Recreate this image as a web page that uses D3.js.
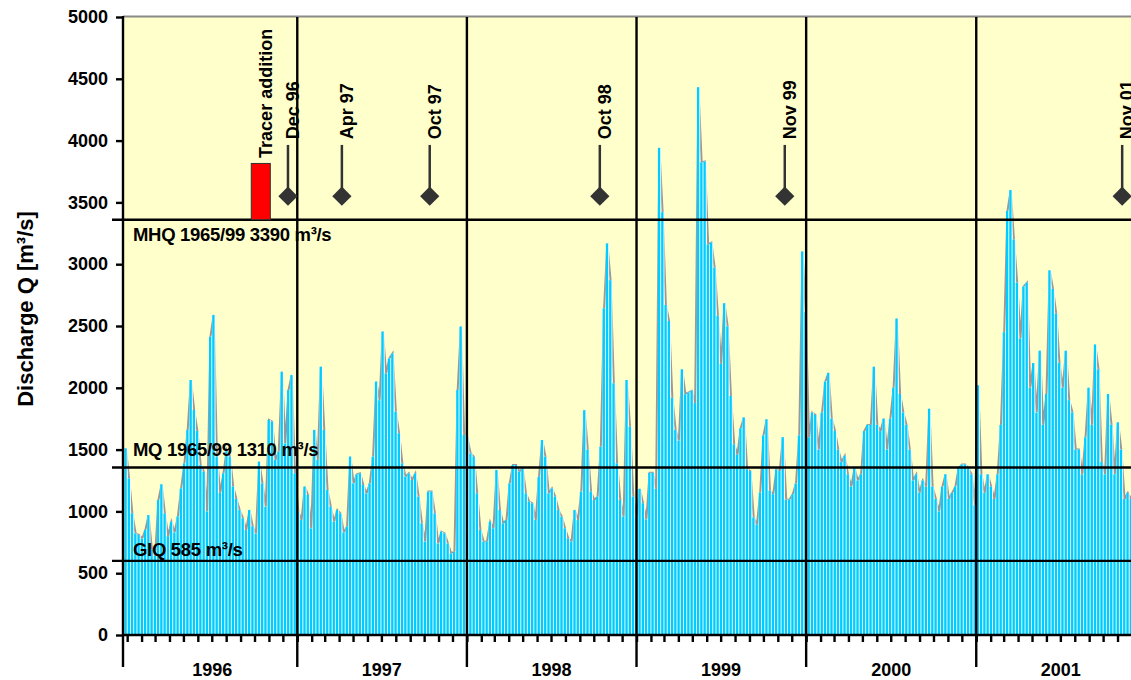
<!DOCTYPE html>
<html><head><meta charset="utf-8">
<script src="https://cdn.jsdelivr.net/npm/d3@7"></script>
<style>
body{margin:0;background:#fff}
svg{display:block;font-family:"Liberation Sans",Arial,Helvetica,sans-serif;font-weight:bold}
</style>
</head><body>
<svg id="chart" width="1131" height="680"></svg>
<script>
// ---------- data (weekly discharge, m³/s) ----------
const q1996=[1510,1267,985,822,810,780,850,970,690,640,1092,1219,984,800,917,830,960,1186,1389,1659,2063,1820,1650,1375,1321,1000,2414,2589,1443,1150,1308,1497,1443,1200,1100,1011,944,849,1011,880,822,1402,1227,1038,1740,1726,1416,1483,2130,1550,1982,2103,1308,1000];
const q1997=[930,1200,1133,863,1659,1416,2170,1659,1173,1038,917,1011,984,830,876,1443,1227,1300,1308,1213,1146,1227,1443,2050,1900,2455,2117,2238,2279,1807,1632,1389,1281,1308,1254,1308,1119,903,755,1160,1160,984,741,836,822,741,660,674,1982,2495,1618,1591];
const q1998=[1469,1442,1146,849,755,755,917,863,1335,1011,903,930,1227,1375,1375,1321,1348,1146,1079,1065,930,1281,1577,1442,1146,1186,1119,1011,957,863,782,755,1011,930,1160,1819,1500,1160,1092,1119,1523,2643,3168,2871,2036,1389,1092,957,2063,1685,1119,960];
const q1999=[1182,1066,936,1312,1312,1182,3941,3421,2670,2540,1919,1659,1572,2150,1948,1962,1977,1876,4432,3825,3831,3161,3175,2973,2583,2193,2684,2497,1934,1543,1457,1673,1760,1341,1326,951,893,1153,1615,1745,1168,1139,1341,1326,1601,1095,1095,1139,1226,1615,3103,2612];
const q2000=[1600,1800,1780,1500,1800,2050,2120,1750,1650,1500,1400,1450,1300,1200,1350,1250,1300,1650,1700,1700,2170,1700,1650,1750,1500,1750,2000,2560,1950,1800,1700,1500,1250,1300,1150,1250,1200,1830,1200,1100,1000,1200,1300,1100,1150,1200,1350,1380,1380,1350,1300,1050];
const q2001=[2020,1300,1150,1300,1200,1100,1300,1700,2450,3430,3600,3200,2850,2400,2820,2850,2000,2200,1800,2300,1700,1950,2950,2800,2600,2200,2000,2300,1900,1800,1500,1500,1300,1600,2000,1700,2350,2150,1400,1300,1950,1700,1300,1720,1500,1100,1150,1100];
const seriesStart="1995-12-26";       // first weekly value
const axisStart="1995-12-23", axisEnd="2001-11-30";
const yTicks=[0,500,1000,1500,2000,2500,3000,3500,4000,4500,5000];
const years=["1996","1997","1998","1999","2000","2001"];
const refValues=[3360,1355,600];
const refLabels=["MHQ 1965/99 3390 m³/s","MQ 1965/99 1310 m³/s","GlQ 585 m³/s"];
const sampleDates=["1996-12-12","1997-04-07","1997-10-13","1998-10-14","1999-11-16","2001-11-11"];
const sampleLabels=["Dec 96","Apr 97","Oct 97","Oct 98","Nov 99","Nov 01"];
const sampleLevel=3550, stemTop=3965, labelStart=4010;
const tracerStart="1996-09-24", tracerEnd="1996-11-04", tracerLow=3360, tracerHigh=3815;
const tracerLabel="Tracer addition", tracerLabelStart=3860;
const yTitle="Discharge Q [m³/s]";

// ---------- build ----------
const parse=d3.utcParse("%Y-%m-%d");
const values=[].concat(q1996,q1997,q1998,q1999,q2000,q2001);
const start=parse(seriesStart);
const data=values.map((v,i)=>({date:d3.utcDay.offset(start,7*i),v}));

const L=123,R=1131,T=17,B=635;
const svg=d3.select("#chart");
const x=d3.scaleUtc().domain([parse(axisStart),parse(axisEnd)]).range([L,R]);
const y=d3.scaleLinear().domain([0,5000]).range([B,T]);

svg.append("defs").append("clipPath").attr("id","clip")
  .append("rect").attr("x",L).attr("y",0).attr("width",R-L).attr("height",B);

svg.append("rect").attr("x",L).attr("y",T).attr("width",R-L).attr("height",B-T).attr("fill","#FFFFCC");
svg.append("line").attr("x1",L).attr("x2",R).attr("y1",T-0.5).attr("y2",T-0.5).attr("stroke","#8a8a8a").attr("stroke-width",2.2);

const g=svg.append("g").attr("clip-path","url(#clip)");
const pitch=d=>x(d3.utcDay.offset(d.date,7))-x(d.date);

// grey trace behind bars
g.append("path").datum(data)
  .attr("d",d3.line().x(d=>x(d.date)+pitch(d)*0.45).y(d=>y(d.v)))
  .attr("fill","none").attr("stroke","#999999").attr("stroke-width",2);

g.selectAll("rect.back").data(data).join("rect").attr("class","back")
  .attr("x",d=>x(d.date)).attr("width",d=>pitch(d))
  .attr("y",d=>y(d.v)).attr("height",d=>B-y(d.v)).attr("fill","#ffffff");
g.selectAll("rect.bar").data(data).join("rect").attr("class","bar")
  .attr("x",d=>x(d.date)).attr("width",d=>pitch(d)-0.9)
  .attr("y",d=>y(d.v)).attr("height",d=>B-y(d.v)).attr("fill","#00CCFF");

// year separators
const yearStarts=years.map(s=>parse(s+"-01-01"));
svg.selectAll("line.yr").data(yearStarts.slice(1)).join("line").attr("class","yr")
  .attr("x1",d=>x(d)).attr("x2",d=>x(d)).attr("y1",T).attr("y2",667)
  .attr("stroke","#000").attr("stroke-width",2.4);

// reference lines
svg.selectAll("line.ref").data(refValues).join("line").attr("class","ref")
  .attr("x1",112).attr("x2",R).attr("y1",d=>y(d)).attr("y2",d=>y(d))
  .attr("stroke","#000").attr("stroke-width",2.4);
const refDy=[21,-12,-5];
svg.selectAll("text.ref").data(refLabels).join("text").attr("class","ref")
  .attr("x",133).attr("y",(d,i)=>y(refValues[i])+refDy[i])
  .attr("font-size",18.5).attr("letter-spacing",-0.3).attr("fill","#000").text(d=>d);

// x axis
const xAxis=d3.axisBottom(x).ticks(d3.utcMonth.every(1)).tickSize(7).tickFormat("");
const gx=svg.append("g").attr("transform",`translate(0,${B})`).call(xAxis);
gx.select(".domain").remove();
gx.selectAll(".tick line").attr("stroke","#000").attr("stroke-width",2.4);
svg.append("line").attr("x1",L).attr("x2",R).attr("y1",B).attr("y2",B).attr("stroke","#000").attr("stroke-width",2.4);
svg.selectAll("text.yr").data(years).join("text").attr("class","yr")
  .attr("x",d=>x(parse(d+"-07-02"))).attr("y",676).attr("text-anchor","middle")
  .attr("font-size",18).text(d=>d);

// y axis
const yAxis=d3.axisLeft(y).tickValues(yTicks).tickSize(7).tickPadding(8).tickFormat(d3.format("d"));
const gy=svg.append("g").attr("transform",`translate(${L},0)`).call(yAxis);
gy.select(".domain").remove();
gy.selectAll(".tick line").attr("stroke","#000").attr("stroke-width",2.4);
gy.selectAll(".tick text").attr("font-size",18).attr("font-family","inherit").attr("font-weight","bold").attr("fill","#000");
svg.append("line").attr("x1",L).attr("x2",L).attr("y1",T-1).attr("y2",667).attr("stroke","#000").attr("stroke-width",2.4);
svg.append("text").attr("transform",`translate(33,${(T+B)/2-17}) rotate(-90)`)
  .attr("text-anchor","middle").attr("font-size",22).text(yTitle);

// tracer addition
svg.append("rect").attr("x",x(parse(tracerStart))).attr("width",x(parse(tracerEnd))-x(parse(tracerStart)))
  .attr("y",y(tracerHigh)).attr("height",y(tracerLow)-y(tracerHigh))
  .attr("fill","#FF0000").attr("stroke","#333").attr("stroke-width",1);
svg.append("text").attr("transform",`translate(${x(parse(tracerEnd))+2},${y(tracerLabelStart)}) rotate(-90)`)
  .attr("font-size",18).text(tracerLabel);

// sampling markers
const samples=sampleDates.map((d,i)=>({x:x(parse(d)),label:sampleLabels[i]}));
const sg=svg.selectAll("g.sample").data(samples).join("g").attr("class","sample");
sg.append("line").attr("x1",d=>d.x).attr("x2",d=>d.x).attr("y1",y(stemTop)).attr("y2",y(sampleLevel))
  .attr("stroke","#333").attr("stroke-width",2.5);
sg.append("path").attr("d",d3.symbol().type(d3.symbolSquare).size(185)())
  .attr("transform",d=>`translate(${d.x},${y(sampleLevel)}) rotate(45)`).attr("fill","#333");
sg.append("text").attr("transform",d=>`translate(${d.x+11},${y(labelStart)}) rotate(-90)`)
  .attr("font-size",18).text(d=>d.label);
</script>
</body></html>
